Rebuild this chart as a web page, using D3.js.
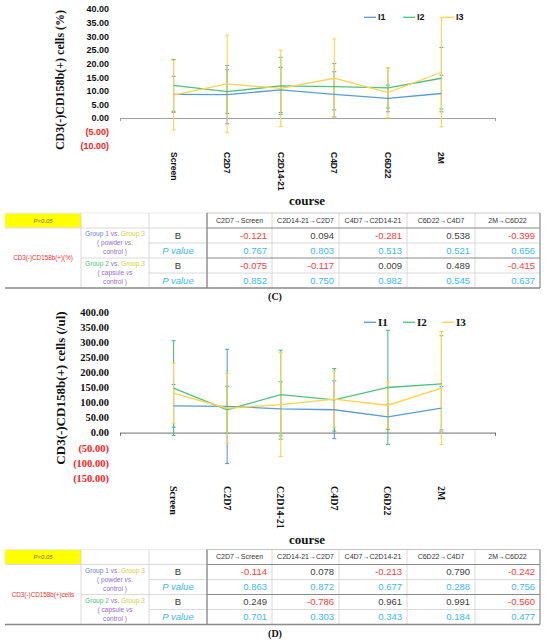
<!DOCTYPE html>
<html>
<head>
<meta charset="utf-8">
<script src="https://cdn.jsdelivr.net/npm/d3@7"></script>
<style>
  html, body { margin: 0; padding: 0; background: #fff; }
  svg { display: block; }
</style>
</head>
<body>
<svg id="fig" width="550" height="643"></svg>
<script>
"use strict";

// ─── Data ─────────────────────────────────────────────────────────────
const categories = ["Screen", "C2D7", "C2D14-21", "C4D7", "C6D22", "2M"];
const seriesNames = ["I1", "I2", "I3"];
const seriesColors = ["#5B9BD5", "#4CC27C", "#FFD34E"];

// (C) CD3(-)CD158b(+) cells (%)
const pctI1 = [8.7, 8.6, 10.3, 8.7, 7.2, 9.0];
const pctI2 = [12.0, 9.7, 11.8, 11.5, 11.1, 14.6];
const pctI3 = [8.4, 12.5, 10.9, 14.6, 9.3, 16.8];
const pctSdI1 = [6.6, 10.7, 8.3, 8.3, 4.9, 6.7];
const pctSdI2 = [9.5, 8.0, 10.5, 8.5, 7.4, 11.3];
const pctSdI3 = [12.8, 17.9, 14.0, 14.4, 9.2, 20.0];
const pctTicks = [-10, -5, 0, 5, 10, 15, 20, 25, 30, 35, 40];

// (D) CD3(-)CD158b(+) cells (/ul)
const cntI1 = [89, 87, 79, 76, 52, 81];
const cntI2 = [148, 76, 126, 109, 150, 162];
const cntI3 = [131, 81, 93, 111, 91, 148];
const cntSdI1 = [71, 190, 90, 96, 42, 72];
const cntSdI2 = [158, 78, 148, 104, 190, 160];
const cntSdI3 = [100, 116, 173, 93, 78, 188];
const cntTicks = [-150, -100, -50, 0, 50, 100, 150, 200, 250, 300, 350, 400];

// regression tables
const transitions = ["C2D7→Screen", "C2D14-21→C2D7", "C4D7→C2D14-21", "C6D22→C4D7", "2M→C6D22"];
const pctB1 = [-0.121, 0.094, -0.281, 0.538, -0.399];
const pctP1 = [0.767, 0.803, 0.513, 0.521, 0.656];
const pctB2 = [-0.075, -0.117, 0.009, 0.489, -0.415];
const pctP2 = [0.852, 0.750, 0.982, 0.545, 0.637];
const cntB1 = [-0.114, 0.078, -0.213, 0.790, -0.242];
const cntP1 = [0.863, 0.872, 0.677, 0.288, 0.756];
const cntB2 = [0.249, -0.786, 0.961, 0.991, -0.560];
const cntP2 = [0.701, 0.303, 0.343, 0.184, 0.477];

const svg = d3.select("#fig");
const SANS = "'Liberation Sans', Arial, sans-serif";
const SERIF = "'Liberation Serif', 'Times New Roman', serif";

// ─── Line chart with error bars ───────────────────────────────────────
function drawChart(cfg) {
  const g = svg.append("g");
  const x = d3.scaleLinear().domain([0, categories.length + 1]).range([120, 495]);
  const y = d3.scaleLinear().domain(cfg.domain).range(cfg.range);

  const fmt = v => v < 0 ? `(${Math.abs(v).toFixed(2)})` : v.toFixed(2);
  const ya = g.append("g").attr("transform", "translate(120,0)")
    .call(d3.axisLeft(y).tickValues(cfg.ticks).tickSize(0).tickPadding(11).tickFormat(fmt));
  ya.select(".domain").remove();
  ya.selectAll("text")
    .attr("font-family", cfg.font).attr("font-size", cfg.tickSize).attr("font-weight", "bold")
    .attr("fill", d => d < 0 ? "#FF2020" : "#111");

  const xa = g.append("g").attr("transform", `translate(0,${y(0)})`)
    .call(d3.axisBottom(x).tickValues([0, categories.length + 1]).tickSize(3).tickFormat(""));
  xa.selectAll("path, line").attr("stroke", cfg.axisColor);

  g.selectAll("text.cat").data(categories).join("text")
    .attr("class", "cat")
    .attr("transform", (d, i) => `translate(${x(i + 1)},${cfg.catTop}) rotate(90)`)
    .attr("dy", "0.35em")
    .attr("font-family", cfg.font).attr("font-size", cfg.catSize).attr("font-weight", "bold")
    .attr("fill", "#111")
    .text(d => d);

  g.append("text")
    .attr("transform", `translate(60,${cfg.titleY}) rotate(-90)`)
    .attr("text-anchor", "middle").attr("dy", "0.35em")
    .attr("font-family", SERIF).attr("font-size", cfg.titleSize).attr("font-weight", "bold")
    .attr("fill", "#111")
    .text(cfg.title);

  g.append("text")
    .attr("x", 307).attr("y", cfg.courseY).attr("text-anchor", "middle")
    .attr("font-family", SERIF).attr("font-size", 13).attr("font-weight", "bold")
    .attr("fill", "#111")
    .text("course");

  // error bars
  cfg.series.forEach((s, k) => {
    const eb = g.append("g").attr("stroke", seriesColors[k]).attr("stroke-width", 1.1);
    s.means.forEach((m, i) => {
      const cx = x(i + 1), hi = y(m + s.sd[i]), lo = y(m - s.sd[i]);
      eb.append("line").attr("x1", cx).attr("x2", cx).attr("y1", hi).attr("y2", lo);
      eb.append("line").attr("x1", cx - 2).attr("x2", cx + 2).attr("y1", hi).attr("y2", hi);
      eb.append("line").attr("x1", cx - 2).attr("x2", cx + 2).attr("y1", lo).attr("y2", lo);
    });
  });

  const line = d3.line().x((d, i) => x(i + 1)).y(d => y(d));
  cfg.series.forEach((s, k) => {
    g.append("path").datum(s.means)
      .attr("d", line).attr("fill", "none")
      .attr("stroke", seriesColors[k]).attr("stroke-width", 1.3);
  });

  // legend
  const lx = d3.scaleLinear().domain([0, 1]).range([364, 403]);
  seriesNames.forEach((n, k) => {
    g.append("line").attr("x1", lx(k)).attr("x2", lx(k) + 12)
      .attr("y1", cfg.legendY).attr("y2", cfg.legendY)
      .attr("stroke", seriesColors[k]).attr("stroke-width", 1.3);
    g.append("text").attr("x", lx(k) + 14).attr("y", cfg.legendY).attr("dy", "0.35em")
      .attr("font-family", cfg.font).attr("font-size", cfg.legendSize).attr("font-weight", "bold")
      .attr("fill", "#111").text(n);
  });
}

drawChart({
  domain: [-10, 40], range: [145.3, 9], ticks: pctTicks,
  font: SANS, tickSize: 9, catSize: 8.5, catTop: 152, axisColor: "#A0A0A0",
  title: "CD3(-)CD158b(+) cells (%)", titleY: 80, titleSize: 12,
  courseY: 205, legendY: 17.3, legendSize: 9,
  series: [
    { means: pctI1, sd: pctSdI1 },
    { means: pctI2, sd: pctSdI2 },
    { means: pctI3, sd: pctSdI3 }
  ]
});

drawChart({
  domain: [-150, 400], range: [477.7, 312.3], ticks: cntTicks,
  font: SERIF, tickSize: 10.5, catSize: 10, catTop: 486, axisColor: "#707070",
  title: "CD3(-)CD158b(+) cells (/ul)", titleY: 388, titleSize: 13,
  courseY: 544, legendY: 322.3, legendSize: 11,
  series: [
    { means: cntI1, sd: cntSdI1 },
    { means: cntI2, sd: cntSdI2 },
    { means: cntI3, sd: cntSdI3 }
  ]
});

// ─── Tables ───────────────────────────────────────────────────────────
const colX = [5, 81, 149, 207, 272, 339, 407, 475, 540];

function drawTable(top, label, rows) {
  const g = svg.append("g");
  const rowY = d3.range(6).map(i => top + i * 15);
  g.append("rect").attr("x", colX[0]).attr("y", rowY[0]).attr("width", colX[8] - colX[0])
    .attr("height", rowY[5] - rowY[0]).attr("fill", "#fff");
  g.append("rect").attr("x", colX[0]).attr("y", rowY[0] + 0.5)
    .attr("width", colX[1] - colX[0]).attr("height", 14).attr("fill", "#FFFF00");

  const hl = (y, x1, x2, c, w) => g.append("line").attr("x1", x1).attr("x2", x2)
    .attr("y1", y).attr("y2", y).attr("stroke", c).attr("stroke-width", w);
  const vl = (x, y1, y2, c, w) => g.append("line").attr("x1", x).attr("x2", x)
    .attr("y1", y1).attr("y2", y2).attr("stroke", c).attr("stroke-width", w);
  const LIGHT = "#D0D0D0", DARK = "#8A8A8A";

  hl(rowY[0], colX[0], colX[3], "#E6E6E6", 0.8);
  hl(rowY[1], colX[0], colX[3], LIGHT, 0.8);
  hl(rowY[2], colX[2], colX[8], LIGHT, 0.8);
  hl(rowY[4], colX[2], colX[8], LIGHT, 0.8);
  hl(rowY[3], colX[1], colX[3], LIGHT, 0.8);
  [1, 2].forEach(c => vl(colX[c], rowY[0], rowY[5], LIGHT, 0.8));
  [4, 5, 6, 7].forEach(c => vl(colX[c], rowY[0], rowY[5], LIGHT, 0.8));
  hl(rowY[0], colX[3], colX[8], "#B8B8B8", 0.8);
  hl(rowY[1], colX[3], colX[8], DARK, 1.2);
  hl(rowY[3], colX[3], colX[8], DARK, 1.2);
  hl(rowY[5], colX[0], colX[8], DARK, 1.4);
  vl(colX[3], rowY[0], rowY[5], DARK, 1.4);
  vl(colX[8], rowY[0], rowY[5], DARK, 1.2);

  const txt = (x, y, s, size, fill, anchor, extra) => {
    const t = g.append("text").attr("x", x).attr("y", y).attr("dy", "0.35em")
      .attr("text-anchor", anchor || "middle").attr("font-family", SANS)
      .attr("font-size", size).attr("fill", fill).text(s);
    if (extra) extra(t);
    return t;
  };
  txt((colX[0] + colX[1]) / 2, rowY[0] + 7.5, "P<0.05", 6, "#7A6418", "middle",
    t => t.attr("font-style", "italic"));
  txt((colX[0] + colX[1]) / 2, (rowY[1] + rowY[5]) / 2, label, 6.3, "#F03030");

  transitions.forEach((h, i) => {
    txt((colX[3 + i] + colX[4 + i]) / 2, rowY[0] + 7.5, h, 7, "#333");
  });

  const groupText = (yc, gA, gAColor, sub) => {
    const cx = (colX[1] + colX[2]) / 2;
    const t1 = g.append("text").attr("x", cx).attr("y", yc - 9).attr("dy", "0.35em")
      .attr("text-anchor", "middle").attr("font-family", SANS).attr("font-size", 6.6);
    t1.append("tspan").attr("fill", gAColor).text(gA + " ");
    t1.append("tspan").attr("fill", "#9A6ACD").text("vs. ");
    t1.append("tspan").attr("fill", "#D4CF3A").text("Group 3");
    const t2 = g.append("text").attr("x", cx).attr("y", yc).attr("dy", "0.35em")
      .attr("text-anchor", "middle").attr("font-family", SANS).attr("font-size", 6.6)
      .attr("fill", "#9A6ACD");
    t2.append("tspan").text(`( ${sub} `);
    t2.append("tspan").attr("font-style", "italic").text("vs");
    t2.append("tspan").text(sub === "powder" ? "." : "");
    txt(cx, yc + 9, "control )", 6.6, "#9A6ACD");
  };
  groupText((rowY[1] + rowY[3]) / 2, "Group 1", "#6A80E6", "powder");
  groupText((rowY[3] + rowY[5]) / 2, "Group 2", "#4CC27C", "capsule");

  const labelX = (colX[2] + colX[3]) / 2;
  [0, 1, 2, 3].forEach(r => {
    const yc = (rowY[r + 1] + rowY[r + 2]) / 2;
    if (r % 2 === 0) txt(labelX, yc, "B", 9.5, "#333");
    else txt(labelX, yc, "P value", 9.5, "#3DB8F0", "middle", t => t.attr("font-style", "italic"));
    rows[r].forEach((v, i) => {
      const fill = r % 2 === 1 ? "#3DB8F0" : (v < 0 ? "#FF3B3B" : "#404040");
      txt(colX[4 + i] - 5, yc, v.toFixed(3), 9.5, fill, "end");
    });
  });
}

drawTable(213, "CD3(-)CD158b(+)(%)", [pctB1, pctP1, pctB2, pctP2]);
drawTable(549.5, "CD3(-)CD158b(+)cells", [cntB1, cntP1, cntB2, cntP2]);

svg.append("text").attr("x", 275).attr("y", 300).attr("text-anchor", "middle")
  .attr("font-family", SERIF).attr("font-size", 10).attr("font-weight", "bold")
  .attr("fill", "#111").text("(C)");
svg.append("text").attr("x", 275).attr("y", 637).attr("text-anchor", "middle")
  .attr("font-family", SERIF).attr("font-size", 10).attr("font-weight", "bold")
  .attr("fill", "#111").text("(D)");
</script>
</body>
</html>
